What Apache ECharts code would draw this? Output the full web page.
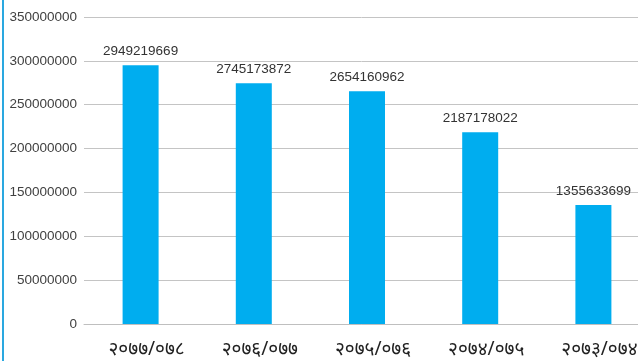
<!DOCTYPE html>
<html>
<head>
<meta charset="utf-8">
<script src="https://cdn.jsdelivr.net/npm/echarts@6/dist/echarts.min.js"></script>
<style>
html,body{margin:0;padding:0;background:#fff;}
#c{position:absolute;left:0;top:0;width:638px;height:361px;}
#edge{position:absolute;left:2px;top:0;width:2px;height:361px;background:#2aa8e0;}
</style>
</head>
<body>
<div id="c"></div>
<div id="edge"></div>
<script>
var categories = ['२०७७/०७८', '२०७६/०७७', '२०७५/०७६', '२०७४/०७५', '२०७३/०७४'];
var values = [294921966.9, 274517387.2, 265416096.2, 218717802.2, 135563369.9];
var valueLabels = ['2949219669', '2745173872', '2654160962', '2187178022', '1355633699'];
var yTicks = [0, 50000000, 100000000, 150000000, 200000000, 250000000, 300000000, 350000000];

var chart = echarts.init(document.getElementById('c'), null, {renderer: 'canvas'});
chart.setOption({
  animation: false,
  grid: {left: 84, right: -12, top: 17, bottom: 37, containLabel: false, outerBoundsMode: 'none'},
  xAxis: {
    type: 'category',
    data: categories,
    axisLine: {lineStyle: {color: '#bfbfbf', width: 1}},
    axisTick: {show: false},
    axisLabel: {
      color: '#222', fontSize: 19, margin: 16,
      padding: [0, 0, 0, 12],
      fontFamily: '"Noto Sans", sans-serif'
    }
  },
  yAxis: {
    type: 'value',
    min: yTicks[0],
    max: yTicks[yTicks.length - 1],
    interval: yTicks[1] - yTicks[0],
    axisLine: {show: false},
    axisTick: {show: false},
    splitLine: {lineStyle: {color: '#c4c4c4', width: 1}},
    axisLabel: {
      color: '#404040', fontSize: 13.5, margin: 7,
      fontFamily: '"Liberation Sans", Arial, sans-serif',
      formatter: function (v) { return String(v); }
    }
  },
  series: [{
    type: 'bar',
    data: values,
    barWidth: 36,
    itemStyle: {color: '#00adef'},
    label: {
      show: true, position: 'top', distance: 7,
      color: '#333', fontSize: 13.5,
      fontFamily: '"Liberation Sans", Arial, sans-serif',
      formatter: function (p) { return valueLabels[p.dataIndex]; }
    }
  }]
});
</script>
</body>
</html>
